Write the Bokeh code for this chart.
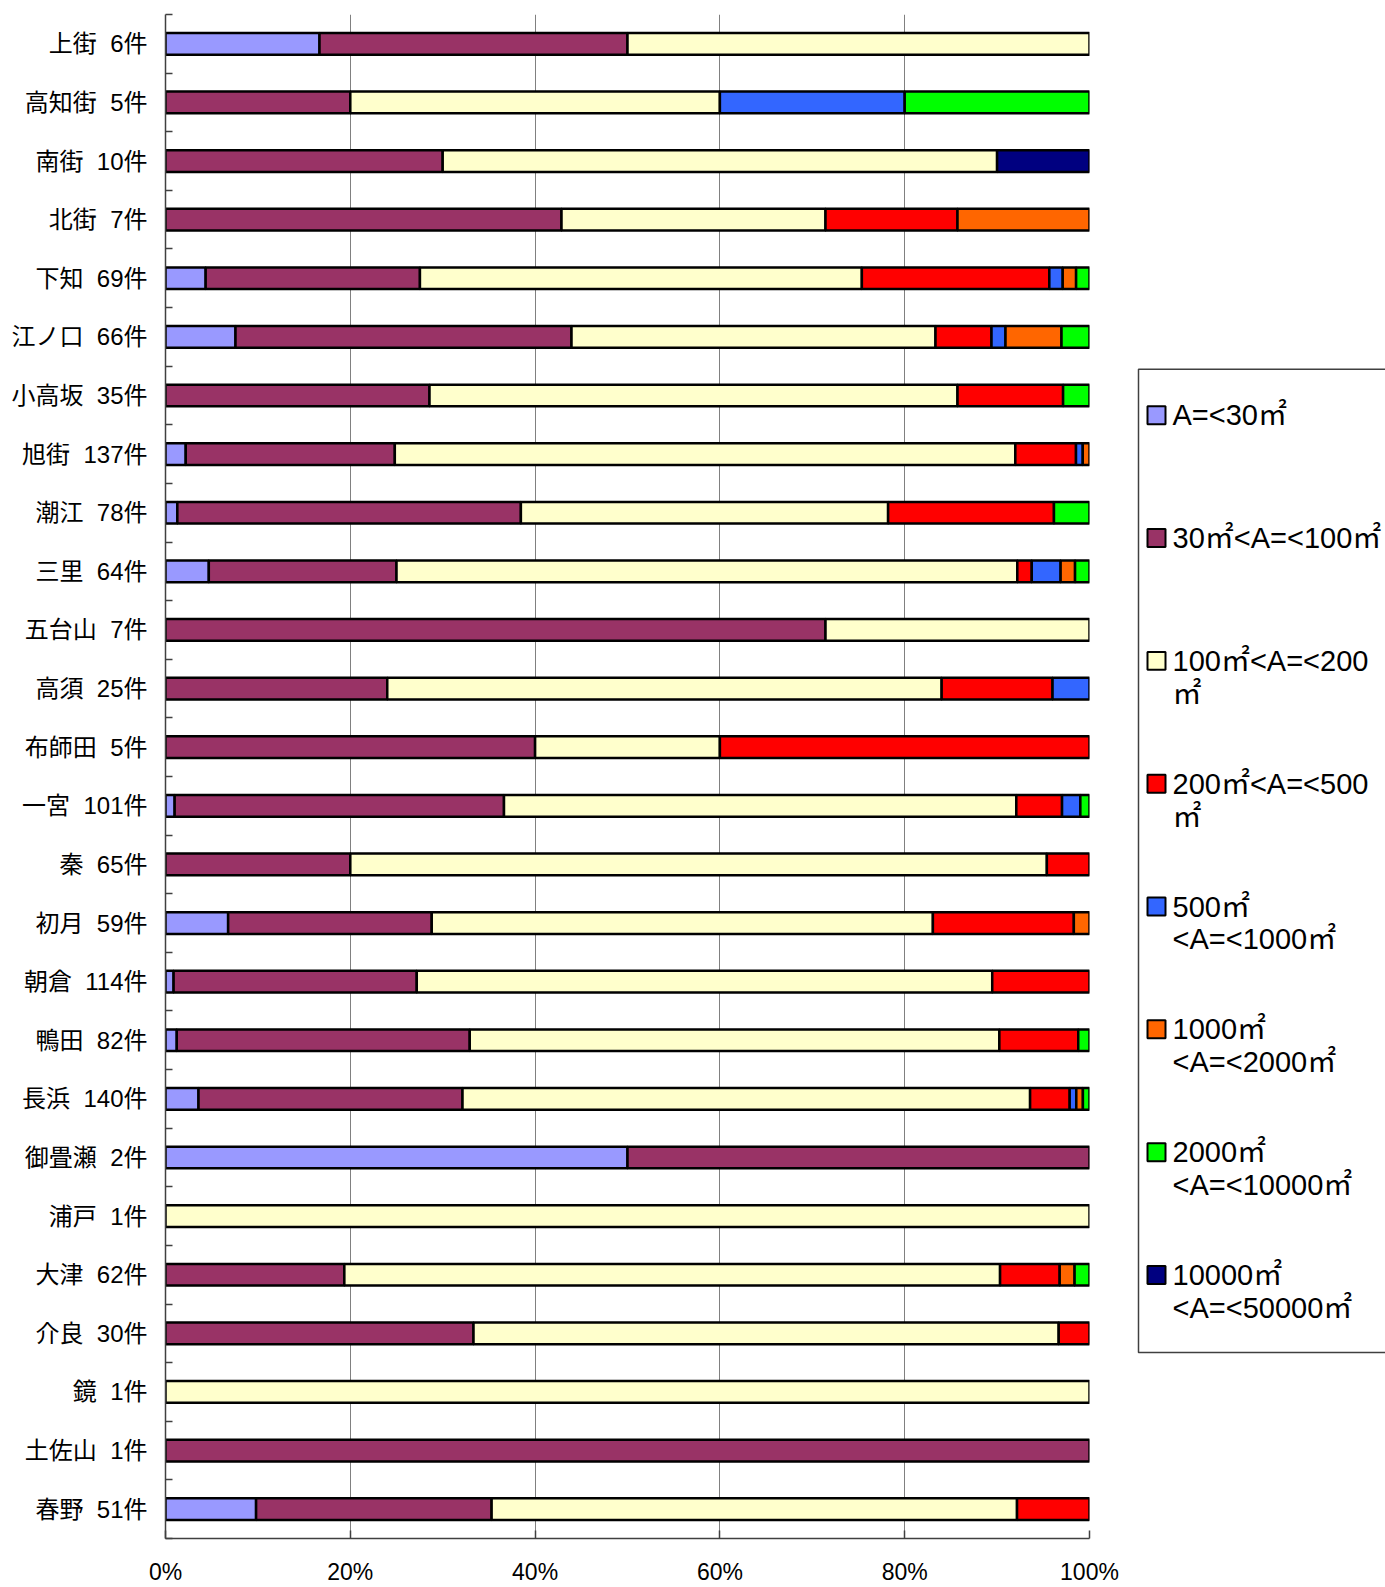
from bokeh.plotting import figure
from bokeh.models import Range1d, FixedTicker, ColumnDataSource, PrintfTickFormatter
from bokeh.layouts import row
from bokeh.embed import file_html
from bokeh.resources import INLINE
from bokeh.core.properties import value

# ---------------- data ----------------
categories = ["上街", "高知街", "南街", "北街", "下知", "江ノ口", "小高坂", "旭街", "潮江", "三里",
              "五台山", "高須", "布師田", "一宮", "秦", "初月", "朝倉", "鴨田", "長浜", "御畳瀬",
              "浦戸", "大津", "介良", "鏡", "土佐山", "春野"]
totals = [6, 5, 10, 7, 69, 66, 35, 137, 78, 64, 7, 25, 5, 101, 65, 59, 114, 82, 140, 2, 1, 62, 30, 1, 1, 51]

series_names = ["A=<30㎡", "30㎡<A=<100㎡", "100㎡<A=<200㎡", "200㎡<A=<500㎡",
                "500㎡<A=<1000㎡", "1000㎡<A=<2000㎡", "2000㎡<A=<10000㎡", "10000㎡<A=<50000㎡"]

a_0_30 = [1, 0, 0, 0, 3, 5, 0, 3, 1, 3, 0, 0, 0, 1, 0, 4, 1, 1, 5, 1, 0, 0, 0, 0, 0, 5]
a_30_100 = [2, 1, 3, 3, 16, 24, 10, 31, 29, 13, 5, 6, 2, 36, 13, 13, 30, 26, 40, 1, 0, 12, 10, 0, 1, 13]
a_100_200 = [3, 2, 6, 2, 33, 26, 20, 92, 31, 43, 2, 15, 1, 56, 49, 32, 71, 47, 86, 0, 1, 44, 19, 1, 0, 29]
a_200_500 = [0, 0, 0, 1, 14, 4, 4, 9, 14, 1, 0, 3, 2, 5, 3, 9, 12, 7, 6, 0, 0, 4, 1, 0, 0, 4]
a_500_1000 = [0, 1, 0, 0, 1, 1, 0, 1, 0, 2, 0, 1, 0, 2, 0, 0, 0, 0, 1, 0, 0, 0, 0, 0, 0, 0]
a_1000_2000 = [0, 0, 0, 1, 1, 4, 0, 1, 0, 1, 0, 0, 0, 0, 0, 1, 0, 0, 1, 0, 0, 1, 0, 0, 0, 0]
a_2000_10000 = [0, 1, 0, 0, 1, 2, 1, 0, 3, 1, 0, 0, 0, 1, 0, 0, 0, 1, 1, 0, 0, 1, 0, 0, 0, 0]
a_10000_50000 = [0, 0, 1, 0, 0, 0, 0, 0, 0, 0, 0, 0, 0, 0, 0, 0, 0, 0, 0, 0, 0, 0, 0, 0, 0, 0]

series_counts = [a_0_30, a_30_100, a_100_200, a_200_500, a_500_1000, a_1000_2000, a_2000_10000, a_10000_50000]
colors = ["#9999FF", "#993366", "#FFFFCC", "#FF0000", "#3366FF", "#FF6600", "#00FF00", "#000080"]

legend_lines = [["A=<30㎡"], ["30㎡<A=<100㎡"], ["100㎡<A=<200", "㎡"], ["200㎡<A=<500", "㎡"],
                ["500㎡", "<A=<1000㎡"], ["1000㎡", "<A=<2000㎡"], ["2000㎡", "<A=<10000㎡"],
                ["10000㎡", "<A=<50000㎡"]]

x_ticks = [0, 20, 40, 60, 80, 100]

# ---------------- main chart ----------------
n = len(categories)
LABEL_FONT = "'Liberation Sans', 'Noto Sans CJK JP'"
NARROW_FONT = "'Liberation Sans Narrow', 'Liberation Sans'"
H = 1587
TOP = 14
BOTTOM = 48

p = figure(width=1130, height=H, x_range=Range1d(0, 100), y_range=Range1d(n, 0),
           output_backend="svg", toolbar_location=None,
           min_border_left=165, min_border_right=41, min_border_top=TOP, min_border_bottom=BOTTOM)
p.outline_line_color = None
p.background_fill_color = "white"

left = [0.0] * n
for name, counts, color in zip(series_names, series_counts, colors):
    pct = [c / t * 100.0 for c, t in zip(counts, totals)]
    rows = [i for i in range(n) if counts[i] > 0]
    src = ColumnDataSource(dict(y=[i + 0.5 for i in rows],
                                left=[left[i] for i in rows],
                                right=[left[i] + pct[i] for i in rows]))
    p.hbar(y="y", left="left", right="right", height=0.37, source=src,
           fill_color=color, line_color="black", line_width=2.5)
    left = [a + b for a, b in zip(left, pct)]

# grid
p.xgrid.ticker = FixedTicker(ticks=x_ticks)
p.xgrid.grid_line_color = "#808080"
p.xgrid.grid_line_width = 1
p.ygrid.grid_line_color = None

# x axis
xa = p.xaxis[0]
xa.ticker = FixedTicker(ticks=x_ticks)
xa.formatter = PrintfTickFormatter(format="%d%%")
xa.major_tick_in = 8
xa.major_tick_out = 0
xa.minor_tick_line_color = None
xa.minor_tick_out = 0
xa.axis_line_color = "#404040"
xa.axis_line_width = 1.5
xa.major_tick_line_color = "#404040"
xa.major_tick_line_width = 1.5
xa.major_label_text_font = NARROW_FONT
xa.major_label_text_font_size = "23px"
xa.major_label_text_color = "black"
xa.major_label_standoff = 20

# y axis
ya = p.yaxis[0]
ya.ticker = FixedTicker(ticks=[i + 0.5 for i in range(n)], minor_ticks=list(range(n + 1)))
ya.major_label_overrides = {i + 0.5: f"{categories[i]}\u00a0\u00a0{totals[i]}件" for i in range(n)}
ya.major_tick_line_color = None
ya.major_tick_in = 0
ya.major_tick_out = 0
ya.minor_tick_in = 7
ya.minor_tick_out = 0
ya.minor_tick_line_color = "#404040"
ya.minor_tick_line_width = 1.5
ya.axis_line_color = "#404040"
ya.axis_line_width = 1.5
ya.major_label_text_font = LABEL_FONT
ya.major_label_text_font_size = "24px"
ya.major_label_text_color = "black"
ya.major_label_standoff = 18

# ---------------- legend panel (pixel coordinates of the page) ----------------
LW = 255
frame_bottom = H - BOTTOM
lg = figure(width=LW, height=H, x_range=Range1d(0, LW), y_range=Range1d(frame_bottom, TOP),
            output_backend="svg", toolbar_location=None,
            min_border_left=0, min_border_right=0, min_border_top=TOP, min_border_bottom=BOTTOM,
            x_axis_type=None, y_axis_type=None)
lg.outline_line_color = None
lg.grid.visible = False

lg.line(x=[LW + 20, 8, 8, LW + 20], y=[369, 369, 1353, 1353], line_color="#404040", line_width=1.5)

entry_y0 = 415.0
entry_step = 122.9
line_gap = 33.0
sw_y, tx, ty, tt = [], [], [], []
for k, lines in enumerate(legend_lines):
    y0 = entry_y0 + k * entry_step
    sw_y.append(y0)
    for j, t in enumerate(lines):
        tx.append(42)
        ty.append(y0 + j * line_gap)
        tt.append(t)

lg.rect(x=[26] * len(sw_y), y=sw_y, width=18, height=18, fill_color=colors,
        line_color="black", line_width=2)
lg.text(x=tx, y=ty, text=tt, text_baseline="middle", text_align="left",
        text_font_size="29px", text_font=value(LABEL_FONT), text_color="black")

layout = row(p, lg)
open("out.html", "w").write(file_html(layout, INLINE))
